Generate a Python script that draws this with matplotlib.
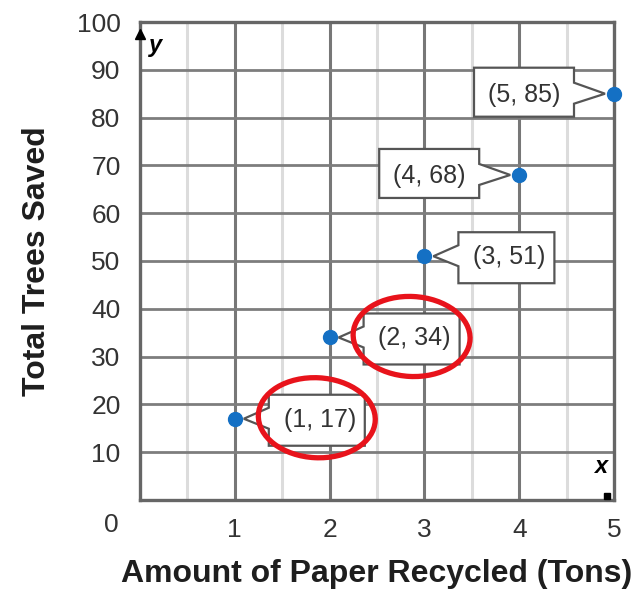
import numpy as np
import matplotlib
matplotlib.use('Agg')
import matplotlib.pyplot as plt
import matplotlib.transforms as mtransforms
from matplotlib.patches import Polygon, Ellipse

# data
paper_tons = [1, 2, 3, 4, 5]
trees_saved = [17, 34, 51, 68, 85]
x_ticks = [1, 2, 3, 4, 5]
y_ticks = [10, 20, 30, 40, 50, 60, 70, 80, 90, 100]
circled = [True, True, False, False, False]      # red pen marks
label_side = ['right', 'right', 'right', 'left', 'left']

plt.rcParams['font.family'] = ['Liberation Sans', 'DejaVu Sans']

fig = plt.figure(figsize=(6.37, 5.96), dpi=100)
ax = fig.add_axes([140/637, 1-500/596, 474/637, 478/596])
ax.set_xlim(0, 5)
ax.set_ylim(0, 100)

# grid
for xv in np.arange(0.5, 5, 1.0):
    ax.axvline(xv, color='#dcdcdc', lw=2.2, zorder=0)
for xv in x_ticks[:-1]:
    ax.axvline(xv, color='#777777', lw=2.2, zorder=1)
for yv in y_ticks[:-1]:
    ax.axhline(yv, color='#7d7d7d', lw=2.0, zorder=1)
for s in ax.spines.values():
    s.set_color('#666666')
    s.set_linewidth(2.4)

ax.set_xticks(x_ticks)
ax.set_yticks(y_ticks)
ax.tick_params(length=0, labelsize=19, labelcolor='#333333')
ax.tick_params(axis='x', pad=13)
ax.tick_params(axis='y', pad=14)
ax.text(-29/94.8, -25/4.78, '0', fontsize=19, color='#333333',
        ha='center', va='center')

ax.set_xlabel('Amount of Paper Recycled (Tons)', fontsize=23,
              fontweight='bold', color='#1e1e1e', labelpad=12)
ax.set_ylabel('Total Trees Saved', fontsize=23, fontweight='bold',
              color='#1e1e1e', labelpad=18)

# axis arrows and letters
ax.plot([0], [0.975], marker='^', color='black', ms=7, transform=ax.transAxes,
        clip_on=False, zorder=5)
ax.text(0.018, 0.975, 'y', transform=ax.transAxes, fontsize=17,
        style='italic', fontweight='bold', va='top', ha='left')
ax.plot([0.985], [0.008], marker='s', color='black', ms=4,
        transform=ax.transAxes, clip_on=False, zorder=5)
ax.text(0.972, 0.045, 'x', transform=ax.transAxes, fontsize=17,
        style='italic', fontweight='bold', va='bottom', ha='center')

# points
ax.plot(paper_tons, trees_saved, 'o', color='#1470c4', ms=10, zorder=6,
        clip_on=False)

# callout labels
for xv, yv, side, mark in zip(paper_tons, trees_saved, label_side, circled):
    tr = fig.dpi_scale_trans + mtransforms.ScaledTranslation(xv, yv, ax.transData)
    if side == 'left':
        x0, x1, tip = -1.40, -0.40, -0.09
        verts = [(x1, 0.11), (tip, 0.0), (x1, -0.10), (x1, -0.23),
                 (x0, -0.23), (x0, 0.26), (x1, 0.26)]
        cx = (x0 + x1) / 2
    else:
        x0, x1, tip = 0.34, 1.30, 0.09
        verts = [(x0, 0.11), (tip, 0.0), (x0, -0.10), (x0, -0.27),
                 (x1, -0.27), (x1, 0.24), (x0, 0.24)]
        cx = (x0 + x1) / 2 + 0.03
    ax.add_patch(Polygon(verts, closed=True, transform=tr, fc='white',
                         ec='#555555', lw=1.6, zorder=4, clip_on=False))
    ax.text(cx, -0.01, '({}, {})'.format(xv, yv), transform=tr, fontsize=18,
            color='#333333', ha='center', va='center', zorder=5)
    if mark:
        ax.add_patch(Ellipse((0.82, 0.01), 1.17, 0.80, angle=-3,
                             transform=tr, fill=False, ec='#e8131b', lw=3.8,
                             zorder=7, clip_on=False))

fig.savefig('out.png', dpi=100)
